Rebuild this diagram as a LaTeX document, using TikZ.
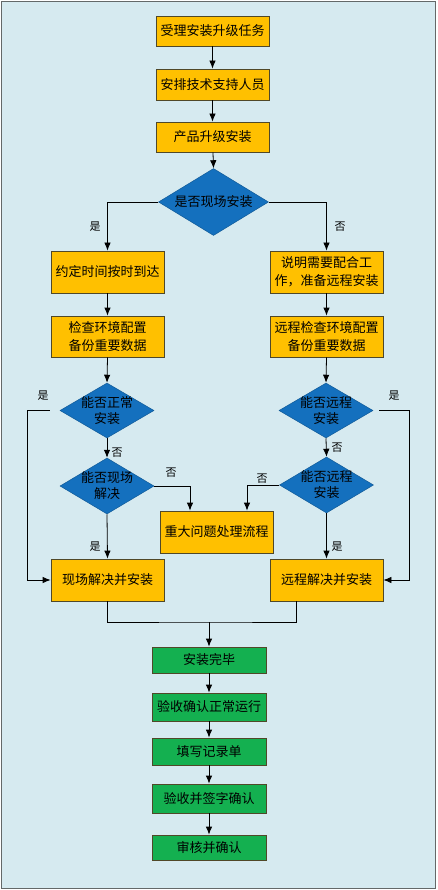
\documentclass[tikz,border=0pt]{standalone}
\usepackage{fontspec}
\setmainfont{Noto Sans CJK SC}
\usetikzlibrary{shapes.geometric,arrows.meta}
\definecolor{bgc}{RGB}{214,234,240}
\definecolor{framec}{RGB}{100,105,105}
\definecolor{orc}{RGB}{255,192,0}
\definecolor{blc}{RGB}{20,112,190}
\definecolor{grc}{RGB}{20,176,80}
\definecolor{edgec}{RGB}{80,72,40}
\begin{document}
\begin{tikzpicture}[x=1pt,y=-1pt,
  obox/.style={draw=edgec, line width=0.8pt, fill=orc, minimum width=113pt, inner sep=0pt, align=center, font=\fontsize{13}{18}\selectfont},
  gbox/.style={draw=edgec, line width=0.8pt, fill=grc, minimum width=114pt, inner sep=0pt, align=center, font=\fontsize{13}{18}\selectfont},
  dia/.style={shape=diamond, draw=blc!80!black, line width=0.5pt, fill=blc, inner sep=0pt},
  dtext/.style={align=center, font=\fontsize{13}{16}\selectfont},
  lab/.style={font=\fontsize{11}{11}\selectfont, inner sep=0pt},
  arr/.style={draw=black, line width=0.8pt, -{Latex[length=8pt,width=6.5pt]}},
  ln/.style={draw=black, line width=0.8pt}]
\useasboundingbox (0,0) rectangle (437,890);
\draw[draw=framec, fill=bgc, line width=1.5pt] (1.5,1.5) rectangle (435.5,888.5);

\node[obox, minimum height=30pt] (b1) at (212.5,31) {受理安装升级任务};
\node[obox, minimum height=31pt] (b2) at (212.5,84.5) {安排技术支持人员};
\node[obox, minimum height=30pt] (b3) at (212.5,137) {产品升级安装};
\node[dia, minimum width=110pt, minimum height=67pt] (d1) at (213.5,202) {};
\node[dtext] (d1t) at (d1.center) {是否现场安装};

\node[obox, minimum height=42pt] (l1) at (107.5,272) {约定时间按时到达};
\node[obox, minimum height=42pt] (r1) at (326.5,272) {说明需要配合工\\作，准备远程安装};
\node[obox, minimum height=41pt] (l2) at (107.5,336.5) {检查环境配置\\备份重要数据};
\node[obox, minimum height=41pt] (r2) at (326.5,336.5) {远程检查环境配置\\备份重要数据};

\node[dia, minimum width=94pt, minimum height=55pt] (ld1) at (107,410.5) {};
\node[dtext] (ld1t) at (ld1.center) {能否正常\\安装};
\node[dia, minimum width=94pt, minimum height=55pt] (rd1) at (326,410.5) {};
\node[dtext] (rd1t) at (rd1.center) {能否远程\\安装};
\node[dia, minimum width=94pt, minimum height=56pt] (ld2) at (107,486) {};
\node[dtext] (ld2t) at (ld2.center) {能否现场\\解决};
\node[dia, minimum width=94pt, minimum height=56pt] (rd2) at (326.5,485) {};
\node[dtext] (rd2t) at (rd2.center) {能否远程\\安装};

\node[obox, minimum height=42pt] (mid) at (216.5,532) {重大问题处理流程};
\node[obox, minimum height=42pt] (l3) at (107.5,580) {现场解决并安装};
\node[obox, minimum height=42pt] (r3) at (326.5,580) {远程解决并安装};

\node[gbox, minimum height=26pt] (g1) at (209,660) {安装完毕};
\node[gbox, minimum height=28pt] (g2) at (209,707) {验收确认正常运行};
\node[gbox, minimum height=27pt] (g3) at (209,751.5) {填写记录单};
\node[gbox, minimum height=29pt] (g4) at (209,798.5) {验收并签字确认};
\node[gbox, minimum height=25pt] (g5) at (209,847.5) {审核并确认};

\coordinate (lx) at (27,580);
\coordinate (rx) at (409,580);
\coordinate (jm) at (209,622);

\draw[arr] (b1) -- (b2);
\draw[arr] (b2) -- (b3);
\draw[arr] (b3) -- (d1.north);
\draw[arr] (d1.west) -| (l1.north);
\draw[arr] (d1.east) -| (r1.north);
\draw[arr] (l1) -- (l2);
\draw[arr] (r1) -- (r2);
\draw[arr] (l2.south) -- (ld1.north);
\draw[arr] (r2.south) -- (rd1.north);
\draw[arr] (ld1.south) -- (ld2.north);
\draw[arr] (rd1.south) -- (rd2.north);
\draw[arr, shorten <=10pt] (ld1.west) -| (lx) -- (l3.west);
\draw[arr, shorten <=6pt] (rd1.east) -| (rx) -- (r3.east);
\draw[arr] (ld2.east) -| ([xshift=-26.5pt]mid.north);
\draw[arr] (rd2.west) -| ([xshift=30.5pt]mid.north);
\draw[arr] (ld2.south) -- (l3.north);
\draw[arr] (rd2.south) -- (r3.north);
\draw[ln] (l3.south) |- (jm) -| ([xshift=-30.5pt]r3.south);
\draw[arr] (jm) -- (g1.north);
\draw[arr] (g1) -- (g2);
\draw[arr] (g2) -- (g3);
\draw[arr] (g3) -- (g4);
\draw[arr] (g4) -- (g5);

\node[lab] (t1) at (95,227) {是};
\node[lab] (t2) at (340,227) {否};
\node[lab] (t3) at (43,396) {是};
\node[lab] (t4) at (394,396) {是};
\node[lab] (t5) at (117,453) {否};
\node[lab] (t6) at (337,448) {否};
\node[lab] (t7) at (171,473) {否};
\node[lab] (t8) at (262,479) {否};
\node[lab] (t9) at (95,547) {是};
\node[lab] (t10) at (337,547) {是};
\end{tikzpicture}
\end{document}
